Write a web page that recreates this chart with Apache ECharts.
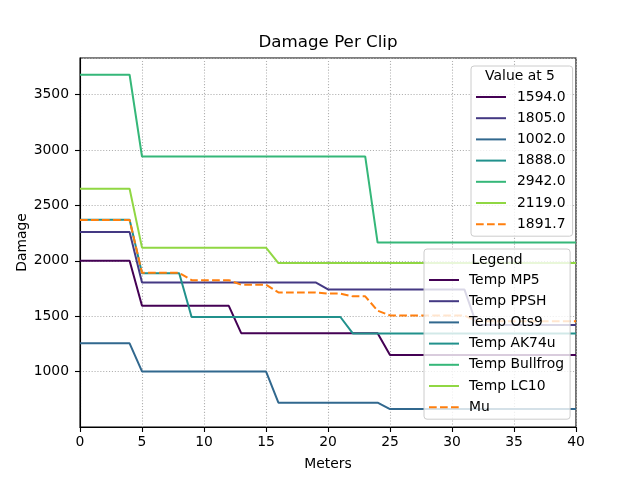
<!DOCTYPE html>
<html>
<head>
<meta charset="utf-8">
<script src="https://cdn.jsdelivr.net/npm/echarts@6/dist/echarts.min.js"></script>
<style>
    html, body { margin: 0; padding: 0; background: #fff; }
    #chart { width: 640px; height: 480px; }
</style>
</head>
<body>
<div id="chart"></div>
<script>
// distances (m)
var meters = [0, 1, 2, 3, 4, 5, 6, 7, 8, 9, 10, 11, 12, 13, 14, 15, 16, 17, 18, 19, 20,
    21, 22, 23, 24, 25, 26, 27, 28, 29, 30, 31, 32, 33, 34, 35, 36, 37, 38, 39, 40];

// damage per clip
var mp5 = [2000, 2000, 2000, 2000, 2000, 1594, 1594, 1594, 1594, 1594, 1594, 1594, 1594,
    1347, 1347, 1347, 1347, 1347, 1347, 1347, 1347, 1347, 1347, 1347, 1347,
    1149, 1149, 1149, 1149, 1149, 1149, 1149, 1149, 1149, 1149, 1149, 1149, 1149, 1149, 1149, 1149];
var ppsh = [2260, 2260, 2260, 2260, 2260, 1805, 1805, 1805, 1805, 1805, 1805, 1805, 1805,
    1805, 1805, 1805, 1805, 1805, 1805, 1805, 1742, 1742, 1742, 1742, 1742, 1742, 1742,
    1742, 1742, 1742, 1742, 1742, 1421, 1421, 1421, 1421, 1421, 1421, 1421, 1421, 1421];
var ots9 = [1255, 1255, 1255, 1255, 1255, 1002, 1002, 1002, 1002, 1002, 1002, 1002, 1002,
    1002, 1002, 1002, 720, 720, 720, 720, 720, 720, 720, 720, 720,
    662, 662, 662, 662, 662, 662, 662, 662, 662, 662, 662, 662, 662, 662, 662, 662];
var ak74u = [2371, 2371, 2371, 2371, 2371, 1888, 1888, 1888, 1888, 1493, 1493, 1493, 1493,
    1493, 1493, 1493, 1493, 1493, 1493, 1493, 1493, 1493, 1345, 1345, 1345, 1345, 1345,
    1345, 1345, 1345, 1345, 1345, 1345, 1345, 1345, 1345, 1345, 1345, 1345, 1345, 1345];
var bullfrog = [3680, 3680, 3680, 3680, 3680, 2942, 2942, 2942, 2942, 2942, 2942, 2942, 2942,
    2942, 2942, 2942, 2942, 2942, 2942, 2942, 2942, 2942, 2942, 2942, 2165, 2165, 2165,
    2165, 2165, 2165, 2165, 2165, 2165, 2165, 2165, 2165, 2165, 2165, 2165, 2165, 2165];
var lc10 = [2650, 2650, 2650, 2650, 2650, 2119, 2119, 2119, 2119, 2119, 2119, 2119, 2119,
    2119, 2119, 2119, 1980, 1980, 1980, 1980, 1980, 1980, 1980, 1980, 1980, 1980, 1980,
    1980, 1980, 1980, 1980, 1980, 1980, 1980, 1980, 1980, 1980, 1980, 1980, 1980, 1980];
var mu = [2369.3, 2369.3, 2369.3, 2369.3, 2369.3, 1891.7, 1891.7, 1891.7, 1891.7,
    1825.8, 1825.8, 1825.8, 1825.8, 1784.7, 1784.7, 1784.7, 1714.5, 1714.5, 1714.5, 1714.5,
    1704.0, 1704.0, 1679.3, 1679.3, 1549.8, 1507.2, 1507.2, 1507.2, 1507.2, 1507.2, 1507.2,
    1507.2, 1453.7, 1453.7, 1453.7, 1453.7, 1453.7, 1453.7, 1453.7, 1453.7, 1453.7];

var names = ['Temp MP5', 'Temp PPSH', 'Temp Ots9', 'Temp AK74u', 'Temp Bullfrog', 'Temp LC10', 'Mu'];
var valueAt5 = ['1594.0', '1805.0', '1002.0', '1888.0', '2942.0', '2119.0', '1891.7'];
var xTicks = [0, 5, 10, 15, 20, 25, 30, 35, 40];

var allValues = [mp5, ppsh, ots9, ak74u, bullfrog, lc10, mu];
var colors = ['#440154', '#443983', '#31688e', '#21918c', '#35b779', '#90d743', '#ff7f0e'];
var FONT = 'DejaVu Sans';

var series = names.map(function (name, i) {
    return {
        name: name,
        type: 'line',
        symbol: 'none',
        showSymbol: false,
        data: meters.map(function (m, j) { return [m, allValues[i][j]]; }),
        lineStyle: {color: colors[i], width: 2, type: name === 'Mu' ? [7.7, 3.3] : 'solid'},
        itemStyle: {color: colors[i]}
    };
});

function legendBox(extra) {
    var base = {
        orient: 'vertical',
        data: names,
        selectedMode: false,
        itemWidth: 30,
        itemHeight: 14,
        itemGap: 7.2,
        // line only, no marker in the key
        itemStyle: {color: 'rgba(0,0,0,0)', borderWidth: 0, borderColor: 'rgba(0,0,0,0)'},
        backgroundColor: 'rgba(255,255,255,0.8)',
        borderColor: '#cccccc',
        borderWidth: 1,
        borderRadius: 3,
        textStyle: {fontFamily: FONT, fontSize: 13.9, color: '#000'}
    };
    for (var k in extra) base[k] = extra[k];
    return base;
}

var chart = echarts.init(document.getElementById('chart'));
chart.setOption({
    animation: false,
    backgroundColor: '#fff',
    title: {
        text: 'Damage Per Clip',
        left: 328,
        top: 34,
        padding: 0,
        textAlign: 'center',
        textStyle: {fontFamily: FONT, fontSize: 16.7, fontWeight: 'normal', color: '#000'}
    },
    grid: {
        left: 80, right: 64, top: 58, bottom: 53,
        outerBoundsMode: 'none',
        containLabel: false,
        show: true, borderColor: '#000', borderWidth: 1.1
    },
    legend: [
        legendBox({
            left: 471, top: 66,
            padding: [24, 7, 5, 4],
            formatter: function (name) { return valueAt5[names.indexOf(name)]; },
            textStyle: {fontFamily: FONT, fontSize: 13.9, color: '#000', padding: [0, 0, 0, 6]}
        }),
        legendBox({
            left: 424, top: 249,
            padding: [24, 6, 5, 4],
            textStyle: {fontFamily: FONT, fontSize: 13.9, color: '#000', padding: [0, 0, 0, 5]}
        })
    ],
    graphic: [
        {
            type: 'text', z: 100, x: 520, y: 76,
            style: {text: 'Value at 5', fontFamily: FONT, fontSize: 13.9, fill: '#000',
                textAlign: 'center', textVerticalAlign: 'middle'}
        },
        {
            type: 'text', z: 100, x: 497, y: 260,
            style: {text: 'Legend', fontFamily: FONT, fontSize: 13.9, fill: '#000',
                textAlign: 'center', textVerticalAlign: 'middle'}
        }
    ],
    xAxis: {
        type: 'value',
        min: 0, max: 40, interval: 5,
        name: 'Meters',
        nameLocation: 'middle',
        nameGap: 30,
        nameMoveOverlap: false,
        nameTextStyle: {fontFamily: FONT, fontSize: 13.9, color: '#000'},
        axisLine: {onZero: false, lineStyle: {color: '#000', width: 1.1}},
        axisTick: {show: true, length: 5, lineStyle: {color: '#000', width: 1.1}},
        axisLabel: {
            fontFamily: FONT, fontSize: 13.9, color: '#000', margin: 8,
            formatter: function (v) { return xTicks.indexOf(v) >= 0 ? String(v) : ''; }
        },
        splitLine: {show: true, lineStyle: {color: '#b0b0b0', type: [1.1, 1.8], width: 1.1}}
    },
    yAxis: {
        type: 'value',
        min: 500, max: 3831, interval: 500,
        name: 'Damage',
        nameLocation: 'middle',
        nameGap: 51,
        nameMoveOverlap: false,
        nameTextStyle: {fontFamily: FONT, fontSize: 13.9, color: '#000'},
        axisLine: {onZero: false, lineStyle: {color: '#000', width: 1.1}},
        axisTick: {show: true, length: 5, lineStyle: {color: '#000', width: 1.1}},
        axisLabel: {
            fontFamily: FONT, fontSize: 13.9, color: '#000', margin: 11,
            showMinLabel: false, showMaxLabel: false,
            formatter: function (v) { return String(v); }
        },
        splitLine: {show: true, lineStyle: {color: '#b0b0b0', type: [1.1, 1.8], width: 1.1}}
    },
    series: series
});
</script>
</body>
</html>
